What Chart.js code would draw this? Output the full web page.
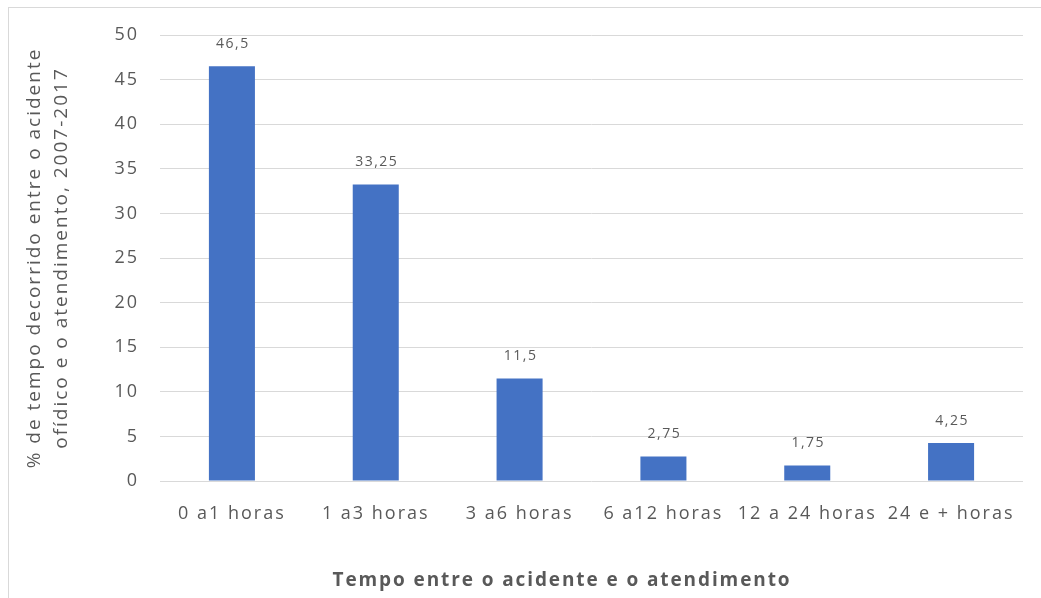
<!DOCTYPE html>
<html lang="pt">
<head>
<meta charset="utf-8">
<title>Tempo entre o acidente e o atendimento</title>
<script src="https://cdn.jsdelivr.net/npm/chart.js@4.4.1/dist/chart.umd.min.js"></script>
<style>
  html, body { margin: 0; padding: 0; background: #ffffff; }
  #wrap { position: relative; width: 1041px; height: 598px; overflow: hidden; }
  #frame {
    position: absolute; left: 8px; top: 7px; width: 1200px; height: 800px;
    border: 1px solid #d9d9d9; box-sizing: border-box;
  }
  #chart { position: absolute; left: 0; top: 0; }
</style>
</head>
<body>
<div id="wrap">
  <div id="frame"></div>
  <canvas id="chart" width="1041" height="598"></canvas>
</div>
<script>
// Categories: elapsed time between the snakebite and medical care
const categories = ['0 a1 horas', '1 a3 horas', '3 a6 horas', '6 a12 horas', '12 a 24 horas', '24 e + horas'];
// Share of cases (%) per time band, 2007-2017
const percentValues = [46.5, 33.25, 11.5, 2.75, 1.75, 4.25];
// Value axis
const yTickMin = 0;
const yTickMax = 50;
const yTickStep = 5;

const yTitleLines = ['% de tempo decorrido entre o acidente', 'ofídico e o atendimento, 2007-2017'];
const xTitleText = 'Tempo entre o acidente e o atendimento';

const FONT = '"Open Sans", "Noto Sans", sans-serif';
const TEXT_COLOR = '#595959';
const GRID_COLOR = '#d9d9d9';
const BAR_COLOR = '#4472C4';

// Slightly tracked-out lettering for the axis text
const textSpacing = {
  id: 'textSpacing',
  beforeLayout(chart) {
    if ('letterSpacing' in chart.ctx) chart.ctx.letterSpacing = '2px';
  },
  beforeDraw(chart) {
    if ('letterSpacing' in chart.ctx) chart.ctx.letterSpacing = '2px';
  }
};

// Value labels above each bar, written with a decimal comma
const barValueLabels = {
  id: 'barValueLabels',
  afterDatasetsDraw(chart) {
    const ctx = chart.ctx;
    const meta = chart.getDatasetMeta(0);
    const data = chart.data.datasets[0].data;
    ctx.save();
    ctx.font = '14px ' + FONT;
    ctx.fillStyle = TEXT_COLOR;
    ctx.textAlign = 'center';
    ctx.textBaseline = 'middle';
    if ('letterSpacing' in ctx) ctx.letterSpacing = '1.5px';
    meta.data.forEach((bar, i) => {
      const txt = String(data[i]).replace('.', ',');
      ctx.fillText(txt, bar.x + 1, bar.y - 22);
    });
    ctx.restore();
  }
};

// Horizontal axis title, centred under the whole chart frame
const xAxisTitle = {
  id: 'xAxisTitle',
  afterDraw(chart) {
    const ctx = chart.ctx;
    ctx.save();
    ctx.font = 'bold 19px ' + FONT;
    ctx.fillStyle = TEXT_COLOR;
    ctx.textAlign = 'center';
    ctx.textBaseline = 'middle';
    if ('letterSpacing' in ctx) ctx.letterSpacing = '1.9px';
    ctx.fillText(xTitleText, 562, 581);
    ctx.restore();
  }
};

new Chart(document.getElementById('chart'), {
  type: 'bar',
  data: {
    labels: categories,
    datasets: [{
      data: percentValues,
      backgroundColor: BAR_COLOR,
      borderWidth: 0,
      barPercentage: 0.32,
      categoryPercentage: 1.0
    }]
  },
  options: {
    responsive: false,
    devicePixelRatio: 1,
    animation: false,
    layout: { padding: { left: 0, top: 35, right: 18, bottom: 0 } },
    plugins: {
      legend: { display: false },
      tooltip: { enabled: false },
      title: { display: false }
    },
    scales: {
      x: {
        grid: { display: false, drawTicks: false },
        border: { display: false },
        ticks: {
          color: TEXT_COLOR,
          font: { family: FONT, size: 18 },
          padding: 22,
          maxRotation: 0,
          autoSkip: false
        },
        afterFit(scale) { scale.height = 117; }
      },
      y: {
        min: yTickMin,
        max: yTickMax,
        grid: { color: GRID_COLOR, lineWidth: 1, drawTicks: false },
        border: { display: false },
        ticks: {
          stepSize: yTickStep,
          color: TEXT_COLOR,
          font: { family: FONT, size: 18 },
          padding: 21
        },
        title: {
          display: true,
          text: yTitleLines,
          color: TEXT_COLOR,
          font: { family: FONT, size: 19, lineHeight: 1.42 },
          padding: { top: 21, bottom: 0 }
        },
        afterFit(scale) { scale.width = 160; }
      }
    }
  },
  plugins: [textSpacing, barValueLabels, xAxisTitle]
});
</script>
</body>
</html>
